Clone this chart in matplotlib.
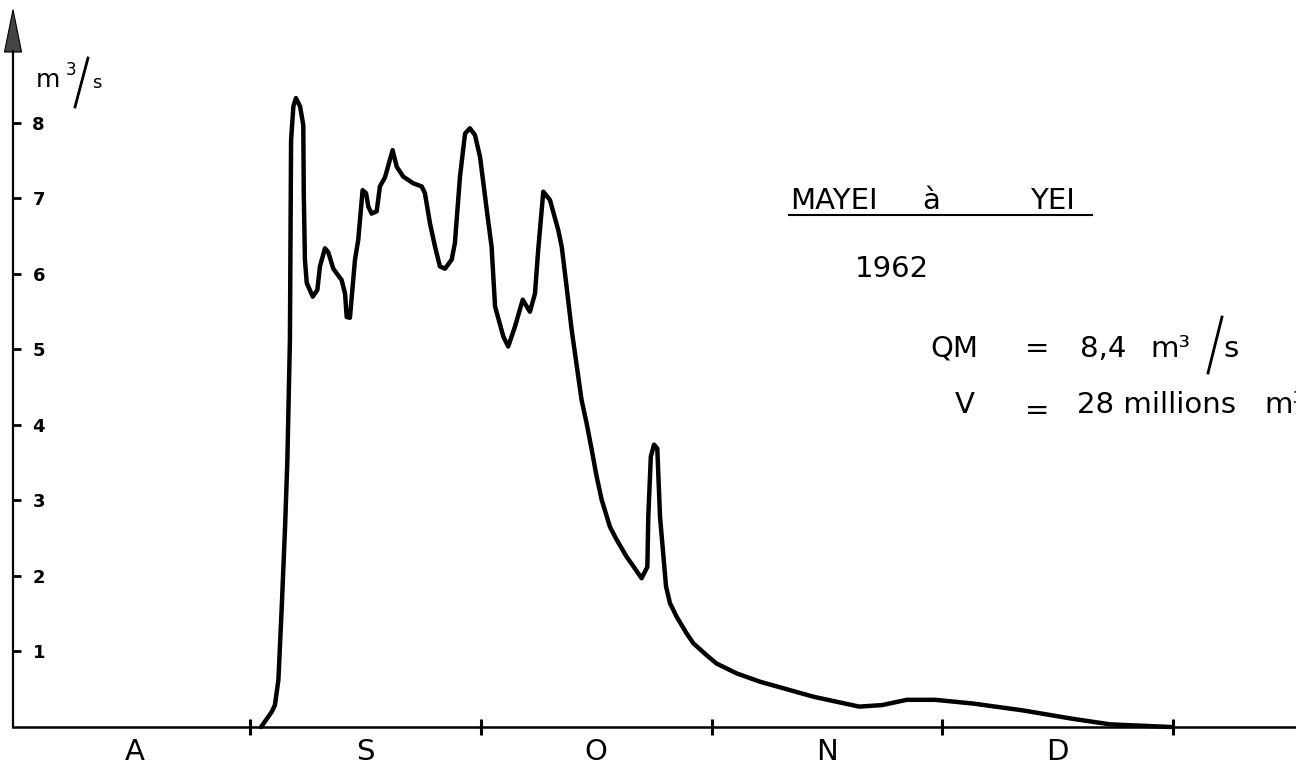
import matplotlib
matplotlib.use('Agg')
import matplotlib.pyplot as plt
from matplotlib.lines import Line2D
from matplotlib.patches import Polygon

# Time in months since 1 August 1962 (1 = 1 Sept, 2 = 1 Oct, ...)
t_month = [1.048, 1.094, 1.108, 1.123, 1.137, 1.152, 1.162, 1.173, 1.175, 1.178,
           1.188, 1.199, 1.217, 1.231, 1.233, 1.238, 1.246, 1.272, 1.292, 1.303,
           1.325, 1.339, 1.361, 1.397, 1.412, 1.419, 1.433, 1.455, 1.469, 1.488,
           1.503, 1.513, 1.527, 1.549, 1.563, 1.585, 1.618, 1.636, 1.664, 1.708,
           1.744, 1.758, 1.780, 1.802, 1.823, 1.845, 1.874, 1.888, 1.910, 1.932,
           1.953, 1.975, 1.997, 2.026, 2.047, 2.062, 2.098, 2.119, 2.148, 2.182,
           2.213, 2.235, 2.249, 2.271, 2.300, 2.336, 2.351, 2.372, 2.394, 2.437,
           2.459, 2.481, 2.502, 2.524, 2.538, 2.560, 2.589, 2.633, 2.661, 2.697,
           2.722, 2.726, 2.737, 2.751, 2.765, 2.777, 2.803, 2.820, 2.849, 2.892,
           2.921, 2.979, 3.022, 3.109, 3.210, 3.245, 3.443, 3.640, 3.739, 3.846,
           3.970, 4.135, 4.349, 4.562, 4.727, 4.991]
# Discharge, m3/s
q_m3s = [0.00, 0.20, 0.29, 0.62, 1.55, 2.65, 3.54, 5.13, 6.19, 7.77,
         8.22, 8.33, 8.22, 7.97, 7.07, 6.19, 5.88, 5.70, 5.79, 6.10,
         6.34, 6.29, 6.07, 5.92, 5.74, 5.43, 5.42, 6.19, 6.45, 7.11,
         7.07, 6.89, 6.80, 6.83, 7.16, 7.28, 7.64, 7.42, 7.29, 7.20,
         7.16, 7.07, 6.67, 6.36, 6.10, 6.07, 6.19, 6.41, 7.29, 7.86,
         7.93, 7.84, 7.55, 6.85, 6.36, 5.57, 5.17, 5.04, 5.30, 5.66,
         5.50, 5.74, 6.32, 7.09, 6.98, 6.58, 6.36, 5.83, 5.26, 4.33,
         4.02, 3.67, 3.32, 3.01, 2.87, 2.65, 2.48, 2.25, 2.13, 1.97,
         2.12, 2.78, 3.58, 3.74, 3.69, 2.78, 1.86, 1.64, 1.46, 1.24,
         1.11, 0.95, 0.84, 0.71, 0.60, 0.57, 0.40, 0.27, 0.29, 0.36,
         0.36, 0.31, 0.22, 0.11, 0.035, 0.00]

month_labels = ['A', 'S', 'O', 'N', 'D']
month_centres = [0.5, 1.5, 2.5, 3.5, 4.5]
month_bounds = [1, 2, 3, 4, 5]
y_ticks = [1, 2, 3, 4, 5, 6, 7, 8]

W, H = 1296, 766
plt.rcParams['font.family'] = ['DejaVu Sans']
fig = plt.figure(figsize=(W / 100, H / 100), dpi=100)
fig.patch.set_facecolor('white')
ax = fig.add_axes([0, 0, 1, 1])
ax.set_xlim(-0.0834, 5.533)
ax.set_ylim(-0.5166, 9.629)
ax.patch.set_alpha(0)

x0 = -0.027
for s in ['top', 'right']:
    ax.spines[s].set_visible(False)
ax.spines['left'].set_position(('data', x0))
ax.spines['bottom'].set_position(('data', 0))
ax.spines['left'].set_bounds(0, 8.95)
ax.spines['bottom'].set_bounds(x0, 5.533)
ax.spines['left'].set_linewidth(1.6)
ax.spines['bottom'].set_linewidth(1.8)

ax.plot(t_month, q_m3s, color='black', lw=3.2, solid_joinstyle='round',
        solid_capstyle='round', zorder=3)

# arrow head on the y axis
ax.add_patch(Polygon([(x0 - 0.037, 8.94), (x0, 9.50), (x0 + 0.037, 8.94)],
                     closed=True, facecolor='#444444', edgecolor='black', lw=0.8,
                     clip_on=False))

ax.set_xticks(month_bounds)
ax.set_xticklabels([])
ax.set_xticks(month_centres, minor=True)
ax.set_xticklabels(month_labels, minor=True, fontsize=21)
ax.tick_params(axis='x', which='major', direction='inout', length=11, width=2.2)
ax.tick_params(axis='x', which='minor', length=0, pad=8)

ax.set_yticks(y_ticks)
ax.set_yticklabels([str(v) for v in y_ticks], fontsize=13, fontweight='bold')
ax.tick_params(axis='y', direction='in', length=6, width=2, pad=-23)


def fx(p):
    return p / W


def fy(p):
    return 1 - p / H


def seg(xa, ya, xb, yb, lw=1.6):
    fig.add_artist(Line2D([fx(xa), fx(xb)], [fy(ya), fy(yb)],
                          transform=fig.transFigure, color='black', lw=lw))


# unit label at top of y axis
fig.text(fx(36), fy(87), 'm', fontsize=18, va='baseline')
fig.text(fx(66), fy(75), '3', fontsize=12, va='baseline')
seg(88, 58, 75, 107, lw=2.0)
fig.text(fx(92), fy(88), 's', fontsize=13, va='baseline')

# annotations
fs = 21
fig.text(fx(790), fy(209), 'MAYEI', fontsize=fs, va='baseline')
fig.text(fx(922), fy(209), 'à', fontsize=fs, va='baseline')
fig.text(fx(1030), fy(209), 'YEI', fontsize=fs, va='baseline')
seg(789, 215, 1092, 215, lw=1.5)

fig.text(fx(855), fy(277), '1962', fontsize=21, va='baseline')

fig.text(fx(930), fy(357), 'QM', fontsize=fs, va='baseline')
fig.text(fx(1025), fy(357), '=', fontsize=fs, va='baseline')
fig.text(fx(1080), fy(357), '8,4', fontsize=fs, va='baseline')
fig.text(fx(1150), fy(357), 'm³', fontsize=fs, va='baseline')
seg(1222, 317, 1208, 373, lw=2.0)
fig.text(fx(1223), fy(357), 's', fontsize=fs, va='baseline')

fig.text(fx(955), fy(413), 'V', fontsize=fs, va='baseline')
fig.text(fx(1025), fy(419), '=', fontsize=fs, va='baseline')
fig.text(fx(1077), fy(413), '28 millions', fontsize=fs, va='baseline')
fig.text(fx(1264), fy(413), 'm³', fontsize=fs, va='baseline')

fig.savefig('out.png', dpi=100)
